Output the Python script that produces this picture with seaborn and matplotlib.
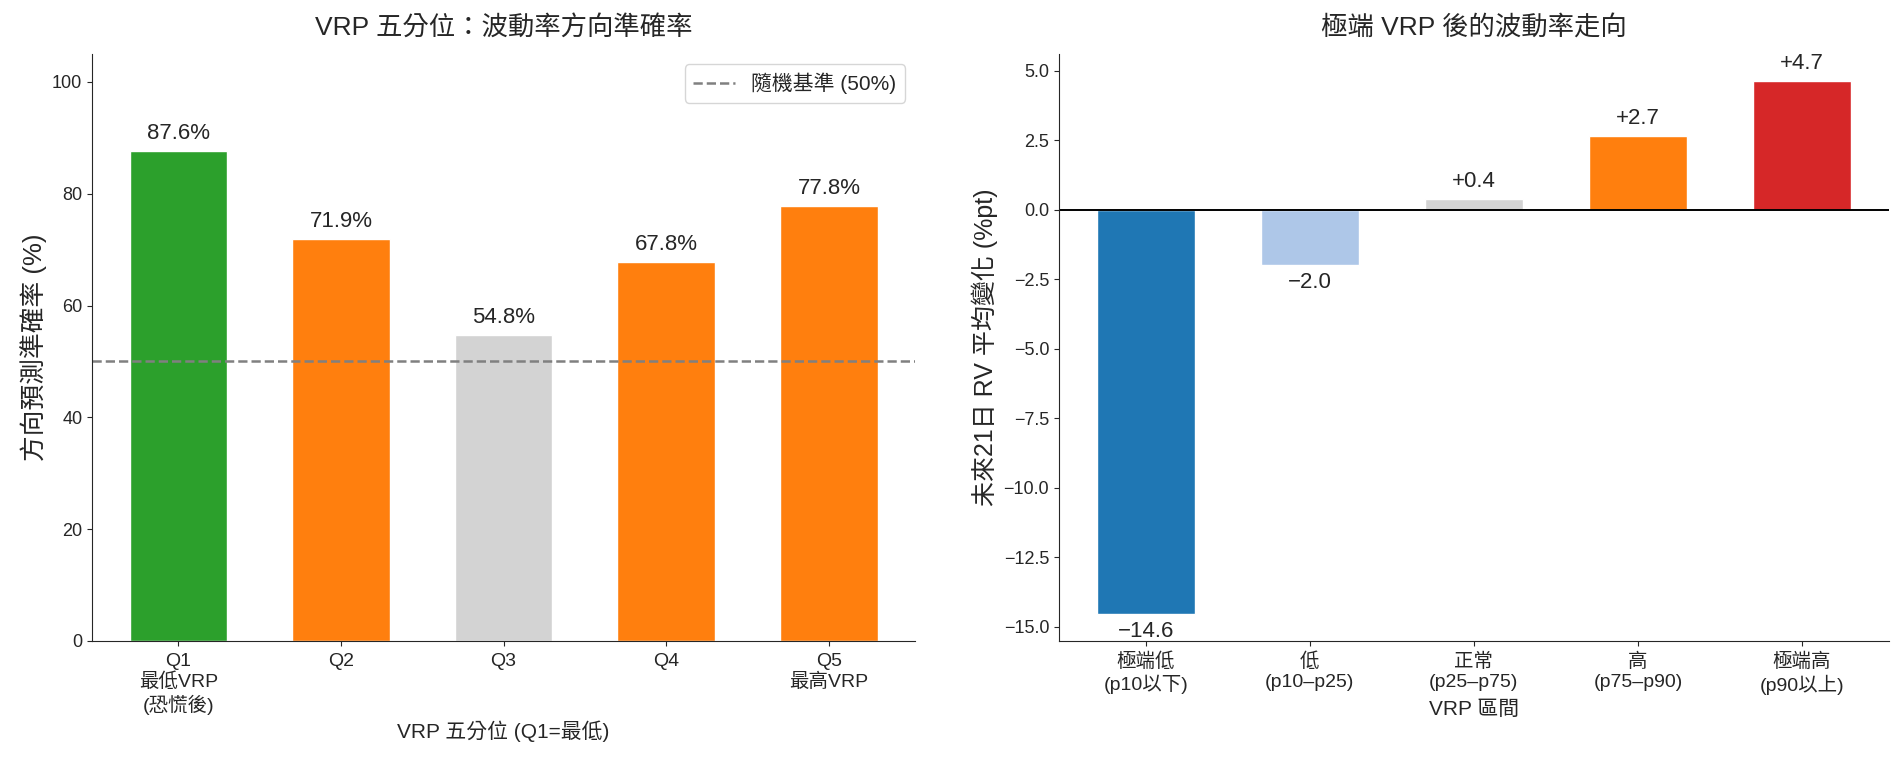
import numpy as np
import pandas as pd
import seaborn as sns
import matplotlib.pyplot as plt

sns.set_style('ticks')
plt.rcParams['font.family'] = ['Liberation Sans', 'Noto Sans CJK TC']
plt.rcParams['axes.unicode_minus'] = True

# 左圖：VRP 五分位方向準確率
quint_labels = ['Q1\n最低VRP\n(恐慌後)', 'Q2', 'Q3', 'Q4', 'Q5\n最高VRP']
quint_acc = [87.6, 71.9, 54.8, 67.8, 77.8]
quint_colors = ['#2ca02c', '#ff7f0e', '#d3d3d3', '#ff7f0e', '#ff7f0e']
baseline = 50

# 右圖：極端 VRP 後的 RV 變化
zone_labels = ['極端低\n(p10以下)', '低\n(p10–p25)', '正常\n(p25–p75)', '高\n(p75–p90)', '極端高\n(p90以上)']
zone_change = [-14.55, -1.97, 0.41, 2.66, 4.65]
zone_colors = ['#1f77b4', '#aec7e8', '#d3d3d3', '#ff7f0e', '#d62728']

df_q = pd.DataFrame({'q': quint_labels, 'acc': quint_acc})
df_z = pd.DataFrame({'zone': zone_labels, 'chg': zone_change})

fig, (ax1, ax2) = plt.subplots(1, 2, figsize=(18.95, 7.64), dpi=100)
ax1.set_position([0.0486, 0.161, 0.4343, 0.7683])
ax2.set_position([0.5588, 0.161, 0.438, 0.7683])

# %%
sns.barplot(df_q, x='q', y='acc', hue='q', palette=quint_colors, legend=False,
            width=0.6, saturation=1, edgecolor='white', linewidth=1, ax=ax1)
ax1.axhline(baseline, color='gray', ls='--', lw=1.8, label='隨機基準 (50%)')
for c in ax1.containers:
    ax1.bar_label(c, fmt='%.1f%%', padding=5, fontsize=16)
ax1.set_xlim(-0.53, len(quint_acc) - 0.47)
ax1.set_ylim(0, 105)
ax1.set_title('VRP 五分位：波動率方向準確率', fontsize=19, pad=14)
ax1.set_ylabel('方向預測準確率 (%)', fontsize=18.5)
ax1.set_xlabel('VRP 五分位 (Q1=最低)', fontsize=15)
ax1.tick_params(axis='y', labelsize=13)
ax1.tick_params(axis='x', labelsize=14, pad=5)
ax1.legend(fontsize=15, loc='upper right')
sns.despine(ax=ax1)

# %%
sns.barplot(df_z, x='zone', y='chg', hue='zone', palette=zone_colors, legend=False,
            width=0.6, saturation=1, edgecolor='white', linewidth=1, ax=ax2)
ax2.axhline(0, color='black', lw=1.4)
for c in ax2.containers:
    labs = [f'{b.get_height():+.1f}'.replace('-', '−') for b in c]
    ax2.bar_label(c, labels=labs, padding=5, fontsize=16)
ax2.set_xlim(-0.53, len(zone_change) - 0.47)
ax2.set_title('極端 VRP 後的波動率走向', fontsize=19, pad=14)
ax2.set_ylabel('未來21日 RV 平均變化 (%pt)', fontsize=18)
ax2.set_xlabel('VRP 區間', fontsize=15)
ax2.tick_params(axis='y', labelsize=13)
ax2.tick_params(axis='x', labelsize=14, pad=5)
sns.despine(ax=ax2)

fig.savefig('out.png', dpi=100)
